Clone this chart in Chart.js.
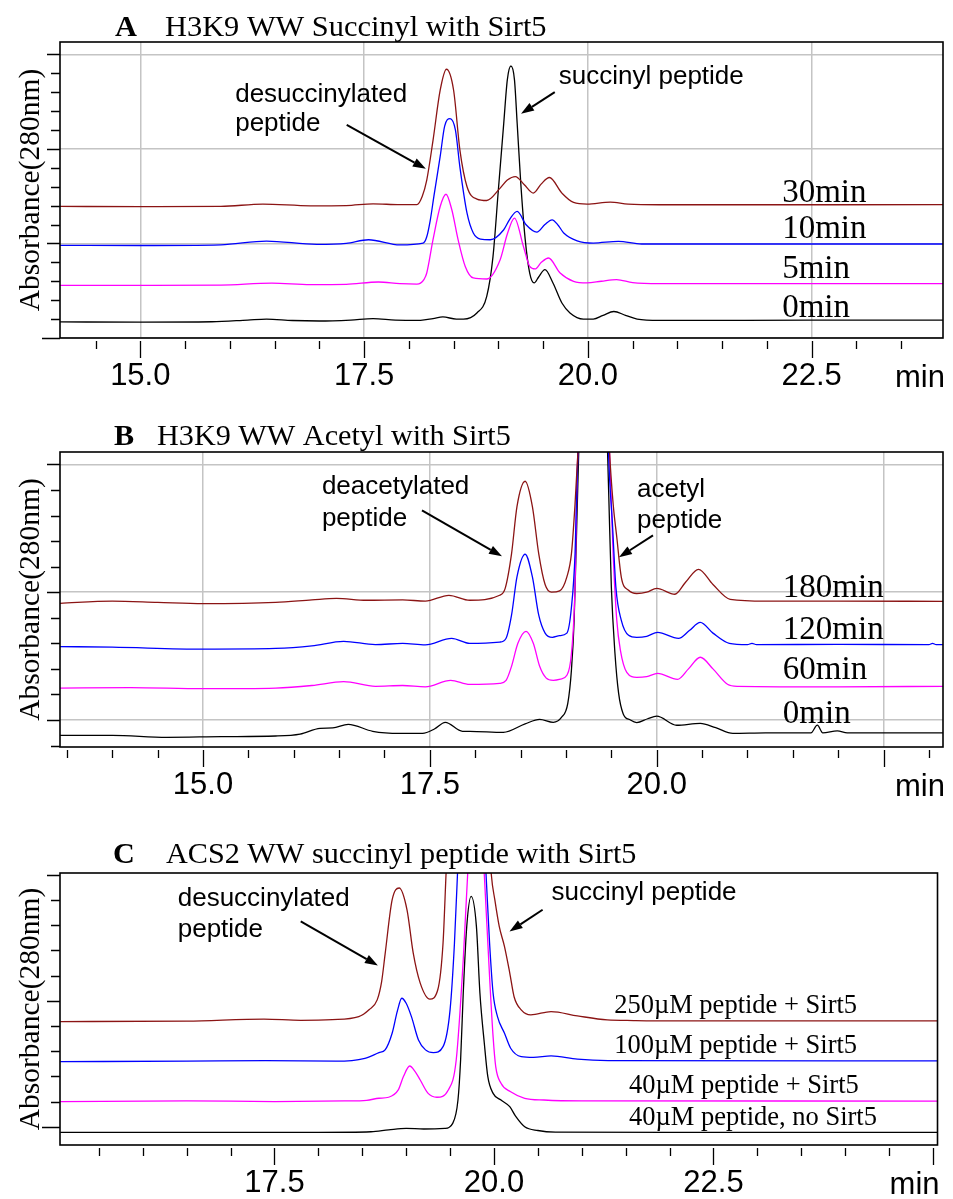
<!DOCTYPE html>
<html>
<head>
<meta charset="utf-8">
<script src="https://cdn.jsdelivr.net/npm/chart.js@4.4.1/dist/chart.umd.min.js"></script>
<style>
  body { margin: 0; background: #fff; }
  .panel { position: absolute; left: 0; width: 953px; }
</style>
</head>
<body>
<div class="panel" style="top:0"><canvas id="chartA" width="953" height="400"></canvas></div>
<div class="panel" style="top:400px"><canvas id="chartB" width="953" height="400"></canvas></div>
<div class="panel" style="top:800px"><canvas id="chartC" width="953" height="399"></canvas></div>
<script>
const DARKRED = "#8b1414";
const BLUE = "#0000ff";
const MAGENTA = "#ff00ff";
const BLACK = "#000000";
const GRID = "#c4c4c4";

// ---- panel A: H3K9 WW succinyl, [time (min), absorbance] ----
const A_0MIN = [
  [14.10, 0.17], [15.0, 0.168], [15.8, 0.172], [16.2, 0.19], [16.41, 0.20], [16.7, 0.185],
  [17.0, 0.18], [17.35, 0.19], [17.60, 0.205], [17.85, 0.19], [18.13, 0.187], [18.27, 0.205],
  [18.38, 0.223], [18.53, 0.20], [18.61, 0.20], [18.76, 0.265], [18.87, 0.44], [18.94, 0.86],
  [19.00, 1.567], [19.06, 2.27], [19.10, 2.73], [19.14, 2.876], [19.18, 2.73], [19.21, 2.27],
  [19.25, 1.64], [19.30, 1.04], [19.35, 0.687], [19.40, 0.582], [19.45, 0.645], [19.52, 0.722],
  [19.61, 0.582], [19.71, 0.37], [19.80, 0.265], [19.95, 0.20], [20.06, 0.20], [20.17, 0.24],
  [20.29, 0.28], [20.42, 0.24], [20.55, 0.20], [20.8, 0.187], [21.5, 0.187], [22.5, 0.188], [23.97, 0.19],
];
const A_5MIN = [
  [14.10, 0.557], [15.0, 0.557], [15.9, 0.56], [16.47, 0.58], [16.9, 0.565], [17.3, 0.568],
  [17.66, 0.592], [17.9, 0.575], [18.09, 0.57], [18.13, 0.58], [18.17, 0.62], [18.20, 0.687],
  [18.27, 1.04], [18.35, 1.39], [18.415, 1.52], [18.48, 1.356], [18.55, 1.04], [18.63, 0.757],
  [18.72, 0.635], [18.87, 0.624], [19.02, 0.828], [19.10, 1.10], [19.18, 1.268], [19.28, 0.968],
  [19.35, 0.757], [19.41, 0.73], [19.48, 0.80], [19.56, 0.846], [19.69, 0.687], [19.84, 0.599],
  [19.99, 0.582], [20.15, 0.60], [20.32, 0.617], [20.5, 0.585], [20.8, 0.574], [22.0, 0.574], [23.97, 0.575],
];
const A_10MIN = [
  [14.10, 0.979], [15.0, 0.978], [15.9, 0.985], [16.41, 1.025], [16.97, 0.99], [17.3, 1.0],
  [17.55, 1.039], [17.9, 0.985], [18.16, 1.004], [18.20, 1.07], [18.24, 1.25], [18.28, 1.50],
  [18.35, 1.92], [18.40, 2.24], [18.46, 2.32], [18.52, 2.20], [18.57, 1.81], [18.65, 1.32],
  [18.72, 1.11], [18.80, 1.046], [18.91, 1.039], [19.06, 1.145], [19.13, 1.26], [19.21, 1.338],
  [19.31, 1.197], [19.43, 1.12], [19.52, 1.20], [19.60, 1.25], [19.67, 1.19], [19.73, 1.11],
  [19.88, 1.028], [20.06, 1.004], [20.34, 1.022], [20.6, 0.994], [22.0, 0.994], [23.97, 0.994],
];
const A_30MIN = [
  [14.10, 1.391], [15.0, 1.39], [15.9, 1.392], [16.37, 1.416], [16.9, 1.398], [17.3, 1.40],
  [17.6, 1.419], [17.9, 1.41], [18.09, 1.41], [18.15, 1.50], [18.20, 1.67], [18.27, 2.09],
  [18.35, 2.62], [18.42, 2.842], [18.50, 2.62], [18.57, 1.99], [18.65, 1.60], [18.76, 1.469],
  [18.87, 1.454], [19.02, 1.585], [19.10, 1.67], [19.19, 1.707], [19.29, 1.62], [19.39, 1.532],
  [19.48, 1.63], [19.57, 1.697], [19.71, 1.532], [19.84, 1.433], [19.99, 1.416], [20.25, 1.437],
  [20.45, 1.415], [20.8, 1.409], [22.0, 1.409], [23.97, 1.41],
];

// ---- panel B: H3K9 WW acetyl ----
const B_0MIN = [
  [13.42, -0.12], [14.0, -0.12], [14.6, -0.135], [15.2, -0.13], [15.8, -0.125], [16.07, -0.11],
  [16.29, -0.065], [16.43, -0.062], [16.60, -0.034], [16.87, -0.088], [17.17, -0.104], [17.42, -0.104],
  [17.55, -0.07], [17.67, -0.018], [17.86, -0.088], [17.94, -0.088], [18.31, -0.096], [18.55, -0.03],
  [18.71, 0.005], [18.86, -0.018], [18.95, 0.02], [19.02, 0.131], [19.06, 0.39], [19.09, 0.78],
  [19.12, 1.56], [19.16, 2.5], [19.30, 3.2], [19.44, 2.5], [19.47, 1.8], [19.50, 1.04],
  [19.54, 0.52], [19.58, 0.21], [19.63, 0.05], [19.71, 0.0], [19.78, -0.02], [19.90, 0.01],
  [20.00, 0.03], [20.22, -0.041], [20.48, -0.026], [20.65, -0.06], [20.84, -0.104], [21.2, -0.1],
  [21.70, -0.1], [21.77, -0.04], [21.83, -0.1], [21.99, -0.085], [22.1, -0.1], [23.16, -0.1],
];
const B_60MIN = [
  [13.42, 0.25], [14.2, 0.253], [15.0, 0.245], [15.8, 0.25], [16.2, 0.27], [16.55, 0.30],
  [16.9, 0.264], [17.2, 0.27], [17.45, 0.26], [17.73, 0.311], [17.94, 0.279], [18.27, 0.287],
  [18.34, 0.31], [18.40, 0.42], [18.47, 0.6], [18.56, 0.694], [18.64, 0.6], [18.71, 0.42],
  [18.78, 0.33], [18.86, 0.311], [18.94, 0.32], [19.01, 0.35], [19.06, 0.52], [19.10, 1.04],
  [19.12, 1.82], [19.16, 2.6], [19.30, 3.2], [19.45, 2.6], [19.49, 1.9], [19.52, 1.30],
  [19.56, 0.78], [19.60, 0.545], [19.67, 0.373], [19.78, 0.334], [19.89, 0.34], [20.01, 0.365],
  [20.23, 0.318], [20.35, 0.40], [20.48, 0.491], [20.62, 0.40], [20.78, 0.28], [20.89, 0.264],
  [22.0, 0.26], [23.16, 0.264],
];
const B_120MIN = [
  [13.42, 0.575], [14.0, 0.57], [15.0, 0.555], [15.8, 0.56], [16.2, 0.58], [16.55, 0.616],
  [16.9, 0.59], [17.2, 0.6], [17.45, 0.588], [17.74, 0.639], [17.94, 0.6], [18.27, 0.61],
  [18.34, 0.64], [18.40, 0.82], [18.46, 1.12], [18.55, 1.297], [18.63, 1.12], [18.70, 0.82],
  [18.77, 0.68], [18.85, 0.647], [18.93, 0.66], [19.01, 0.68], [19.06, 0.88], [19.10, 1.30],
  [19.12, 1.82], [19.16, 2.6], [19.30, 3.2], [19.44, 2.6], [19.48, 1.9], [19.51, 1.56],
  [19.55, 1.04], [19.61, 0.78], [19.69, 0.663], [19.78, 0.647], [19.89, 0.655], [20.01, 0.686],
  [20.24, 0.639], [20.36, 0.70], [20.48, 0.764], [20.62, 0.68], [20.8, 0.6], [21.0, 0.59],
  [21.05, 0.6], [21.1, 0.59], [22.0, 0.592], [23.0, 0.59], [23.04, 0.6], [23.08, 0.59], [23.16, 0.59],
];
const B_180MIN = [
  [13.42, 0.913], [14.0, 0.93], [14.5, 0.92], [15.0, 0.91], [15.8, 0.92], [16.2, 0.94],
  [16.47, 0.952], [16.8, 0.937], [17.2, 0.94], [17.45, 0.93], [17.71, 0.976], [17.94, 0.937],
  [18.27, 0.976], [18.33, 1.03], [18.40, 1.3], [18.46, 1.67], [18.55, 1.868], [18.63, 1.67],
  [18.70, 1.3], [18.77, 1.06], [18.84, 1.0], [18.93, 1.01], [19.01, 1.12], [19.06, 1.30],
  [19.10, 1.69], [19.14, 2.2], [19.18, 2.8], [19.30, 3.3], [19.44, 2.8], [19.48, 2.1],
  [19.52, 1.69], [19.56, 1.43], [19.61, 1.117], [19.69, 1.015], [19.78, 0.99], [19.89, 1.0],
  [20.00, 1.03], [20.20, 0.984], [20.32, 1.08], [20.46, 1.179], [20.62, 1.06], [20.81, 0.944],
  [21.2, 0.93], [22.0, 0.93], [23.16, 0.929],
];

// ---- panel C: ACS2 WW succinyl ----
const C_40_NO_SIRT5 = [
  [15.06, -0.045], [16.0, -0.045], [17.0, -0.045], [18.0, -0.045], [18.6, -0.04], [18.8, -0.025],
  [19.00, -0.013], [19.2, -0.018], [19.44, -0.013], [19.53, 0.027], [19.59, 0.212], [19.62, 0.53],
  [19.65, 1.06], [19.69, 1.59], [19.74, 1.828], [19.80, 1.59], [19.84, 1.06], [19.89, 0.663],
  [19.93, 0.397], [19.99, 0.265], [20.08, 0.212], [20.18, 0.159], [20.25, 0.08], [20.35, 0.0],
  [20.50, -0.03], [20.7, -0.043], [22.0, -0.045], [25.05, -0.045],
];
const C_40_SIRT5 = [
  [15.06, 0.199], [16.5, 0.205], [17.5, 0.20], [18.3, 0.205], [18.55, 0.21], [18.69, 0.226],
  [18.80, 0.234], [18.91, 0.292], [18.97, 0.40], [19.04, 0.482], [19.10, 0.44], [19.16, 0.371],
  [19.25, 0.265], [19.35, 0.234], [19.48, 0.292], [19.57, 0.53], [19.65, 1.325], [19.70, 2.0],
  [19.73, 2.5], [19.80, 2.8], [19.86, 2.5], [19.89, 2.0], [19.95, 1.19], [19.99, 0.715],
  [20.02, 0.477], [20.08, 0.345], [20.19, 0.278], [20.35, 0.226], [20.57, 0.212], [21.0, 0.205], [25.05, 0.204],
];
const C_100_SIRT5 = [
  [15.06, 0.517], [16.5, 0.52], [17.4, 0.525], [18.2, 0.52], [18.53, 0.543], [18.69, 0.588],
  [18.76, 0.61], [18.84, 0.742], [18.90, 0.92], [18.95, 1.02], [19.00, 0.98], [19.06, 0.874],
  [19.14, 0.689], [19.22, 0.61], [19.31, 0.588], [19.42, 0.636], [19.50, 0.928], [19.55, 1.458],
  [19.59, 2.1], [19.62, 2.6], [19.74, 3.0], [19.86, 2.6], [19.91, 2.0], [19.95, 1.458],
  [19.99, 1.06], [20.04, 0.874], [20.12, 0.742], [20.19, 0.623], [20.31, 0.556], [20.45, 0.55],
  [20.65, 0.562], [20.95, 0.536], [21.3, 0.525], [25.05, 0.522],
];
const C_250_SIRT5 = [
  [15.06, 0.835], [16.5, 0.838], [17.38, 0.854], [17.8, 0.845], [18.16, 0.85], [18.46, 0.874],
  [18.58, 0.93], [18.67, 1.007], [18.72, 1.15], [18.76, 1.37], [18.84, 1.80], [18.92, 1.895],
  [19.01, 1.72], [19.08, 1.38], [19.16, 1.14], [19.27, 1.013], [19.36, 1.087], [19.42, 1.458],
  [19.46, 2.1], [19.50, 2.6], [19.70, 3.1], [19.92, 2.6], [19.97, 2.0], [20.01, 1.80],
  [20.06, 1.59], [20.12, 1.43], [20.18, 1.22], [20.23, 1.03], [20.31, 0.928], [20.42, 0.888],
  [20.65, 0.914], [20.95, 0.88], [21.29, 0.848], [21.59, 0.843], [22.0, 0.84], [25.05, 0.84],
];

// trace labels and annotations, placed in data units [text, time, absorbance]
const A_LABELS = [["30min", 22.17, 1.44], ["10min", 22.17, 1.06], ["5min", 22.17, 0.638], ["0min", 22.17, 0.221]];
const A_NOTES = [["desuccinylated", 16.06, 2.496], ["peptide", 16.06, 2.19], ["succinyl peptide", 19.675, 2.69]];
const A_ARROWS = [[17.306, 2.253, 18.19, 1.789], [19.63, 2.6, 19.253, 2.37]];

const B_LABELS = [["180min", 21.39, 0.96], ["120min", 21.39, 0.631], ["60min", 21.39, 0.318], ["0min", 21.39, -0.026]];
const B_NOTES = [["deacetylated", 16.31, 1.766], ["peptide", 16.31, 1.516], ["acetyl", 19.783, 1.743], ["peptide", 19.783, 1.5]];
const B_ARROWS = [[17.413, 1.641, 18.295, 1.281], [19.959, 1.445, 19.584, 1.273]];

const C_LABELS = [
  ["250\u00b5M peptide + Sirt5", 21.369, 0.904],
  ["100\u00b5M peptide + Sirt5", 21.369, 0.586],
  ["40\u00b5M peptide + Sirt5", 21.539, 0.268],
  ["40\u00b5M peptide, no Sirt5", 21.539, 0.0135],
];
const C_NOTES = [["desuccinylated", 16.398, 1.754], ["peptide", 16.398, 1.508], ["succinyl peptide", 20.656, 1.80]];
const C_ARROWS = [[17.799, 1.63, 18.678, 1.28], [20.554, 1.722, 20.177, 1.55]];

function onStep(v, step) {
  const r = v / step;
  return Math.abs(r - Math.round(r)) < 1e-6;
}

function drawArrow(ctx, x1, y1, x2, y2) {
  const ang = Math.atan2(y2 - y1, x2 - x1);
  const head = 13;
  const wing = 4.5;
  const bx = x2 - head * Math.cos(ang);
  const by = y2 - head * Math.sin(ang);
  ctx.lineWidth = 2;
  ctx.beginPath();
  ctx.moveTo(x1, y1);
  ctx.lineTo(bx, by);
  ctx.stroke();
  ctx.beginPath();
  ctx.moveTo(x2, y2);
  ctx.lineTo(bx + wing * Math.sin(ang), by - wing * Math.cos(ang));
  ctx.lineTo(bx - wing * Math.sin(ang), by + wing * Math.cos(ang));
  ctx.closePath();
  ctx.fill();
}

// frame, tick marks, titles, trace labels and arrows
const panelDecor = {
  id: "panelDecor",
  afterDraw(chart, args, o) {
    const { ctx, chartArea: a } = chart;
    const xs = chart.scales.x;
    const ys = chart.scales.y;
    ctx.save();
    ctx.strokeStyle = "#000";
    ctx.fillStyle = "#000";

    ctx.lineWidth = 1.6;
    ctx.strokeRect(a.left, a.top, a.right - a.left, a.bottom - a.top);

    ctx.lineWidth = 1.3;
    ctx.beginPath();
    xs.ticks.forEach((t) => {
      const px = Math.round(xs.getPixelForValue(t.value)) + 0.5;
      const len = onStep(t.value, 2.5) ? 17 : 8;
      ctx.moveTo(px, a.bottom + 3);
      ctx.lineTo(px, a.bottom + 3 + len);
    });
    ys.ticks.forEach((t) => {
      const py = Math.round(ys.getPixelForValue(t.value)) + 0.5;
      let len = onStep(t.value, 1) ? 13 : 9;
      if (Math.abs(t.value) < 1e-6) len = o.zeroTick;
      ctx.moveTo(a.left - len, py);
      ctx.lineTo(a.left, py);
    });
    ctx.stroke();

    ctx.font = '31px "Liberation Sans", Arial, sans-serif';
    ctx.textAlign = "right";
    ctx.textBaseline = "alphabetic";
    ctx.fillText("min", a.right + 2, a.bottom + 49);

    ctx.textAlign = "left";
    ctx.font = `bold ${o.titleSize}px "Liberation Serif", "Times New Roman", serif`;
    ctx.fillText(o.letter, o.letterX, o.titleBase);
    ctx.font = `${o.titleSize}px "Liberation Serif", "Times New Roman", serif`;
    ctx.fillText(o.title, o.titleX, o.titleBase);

    ctx.font = `${o.labelSize}px "Liberation Serif", "Times New Roman", serif`;
    o.labels.forEach(([txt, t, v]) => ctx.fillText(txt, xs.getPixelForValue(t), ys.getPixelForValue(v)));

    ctx.font = '26px "Liberation Sans", Arial, sans-serif';
    o.notes.forEach(([txt, t, v]) => ctx.fillText(txt, xs.getPixelForValue(t), ys.getPixelForValue(v)));

    o.arrows.forEach(([t1, v1, t2, v2]) => {
      drawArrow(ctx, xs.getPixelForValue(t1), ys.getPixelForValue(v1), xs.getPixelForValue(t2), ys.getPixelForValue(v2));
    });
    ctx.restore();
  },
};

function makePanel(id, cfg) {
  return new Chart(document.getElementById(id), {
    type: "line",
    data: {
      datasets: cfg.series.map(([points, color]) => ({
        data: points.map(([t, v]) => ({ x: t, y: v })),
        borderColor: color,
        borderWidth: 1.3,
        pointRadius: 0,
        fill: false,
        cubicInterpolationMode: "monotone",
      })),
    },
    options: {
      responsive: false,
      animation: false,
      events: [],
      layout: { padding: { top: cfg.padTop, right: cfg.padRight, left: 0, bottom: 0 } },
      plugins: { legend: { display: false }, tooltip: { enabled: false }, panelDecor: cfg.decor },
      scales: {
        x: {
          type: "linear",
          min: cfg.xMin,
          max: cfg.xMax,
          afterFit: (s) => { s.height = cfg.xHeight; },
          border: { display: false },
          grid: {
            drawTicks: false,
            lineWidth: 1.5,
            color: (c) => (cfg.grid && c.tick && onStep(c.tick.value, 2.5) ? GRID : "transparent"),
          },
          ticks: {
            stepSize: 0.5,
            includeBounds: false,
            autoSkip: false,
            maxRotation: 0,
            padding: 20,
            color: "#000",
            font: { family: '"Liberation Sans", Arial, sans-serif', size: 31 },
            callback: (v) => (onStep(v, 2.5) && v <= cfg.lastLabel + 1e-6 ? Number(v).toFixed(1) : ""),
          },
        },
        y: {
          type: "linear",
          min: cfg.yMin,
          max: cfg.yMax,
          afterFit: (s) => { s.width = 60; },
          border: { display: false },
          grid: {
            drawTicks: false,
            lineWidth: 1.5,
            color: (c) => (cfg.grid && c.tick && onStep(c.tick.value, 1) ? GRID : "transparent"),
          },
          ticks: { display: false, stepSize: 0.2, includeBounds: false },
          title: {
            display: true,
            text: "Absorbance(280nm)",
            color: "#000",
            padding: { top: 14, bottom: 0 },
            font: { family: '"Liberation Serif", "Times New Roman", serif', size: 29.5 },
          },
        },
      },
    },
    plugins: [panelDecor],
  });
}

makePanel("chartA", {
  series: [[A_30MIN, DARKRED], [A_10MIN, BLUE], [A_5MIN, MAGENTA], [A_0MIN, BLACK]],
  padTop: 42, padRight: 10, xHeight: 62,
  xMin: 14.103, xMax: 23.967, yMin: 0, yMax: 3.13, lastLabel: 22.5, grid: true,
  decor: {
    letter: "A", letterX: 115, title: "H3K9 WW Succinyl with Sirt5", titleX: 165, titleBase: 36, titleSize: 30.4,
    labelSize: 33, labels: A_LABELS, notes: A_NOTES, arrows: A_ARROWS, zeroTick: 18,
  },
});

makePanel("chartB", {
  series: [[B_180MIN, DARKRED], [B_120MIN, BLUE], [B_60MIN, MAGENTA], [B_0MIN, BLACK]],
  padTop: 52, padRight: 10, xHeight: 53,
  xMin: 13.424, xMax: 23.155, yMin: -0.211, yMax: 2.097, lastLabel: 20.0, grid: true,
  decor: {
    letter: "B", letterX: 114, title: "H3K9 WW Acetyl with Sirt5", titleX: 157, titleBase: 45, titleSize: 30.2,
    labelSize: 33, labels: B_LABELS, notes: B_NOTES, arrows: B_ARROWS, zeroTick: 13,
  },
});

makePanel("chartC", {
  series: [[C_250_SIRT5, DARKRED], [C_100_SIRT5, BLUE], [C_40_SIRT5, MAGENTA], [C_40_NO_SIRT5, BLACK]],
  padTop: 73, padRight: 11, xHeight: 54,
  xMin: 15.057, xMax: 25.052, yMin: -0.145, yMax: 2.014, lastLabel: 22.5, grid: false,
  decor: {
    letter: "C", letterX: 113, title: "ACS2 WW succinyl peptide with Sirt5", titleX: 166, titleBase: 63, titleSize: 30.2,
    labelSize: 26.5, labels: C_LABELS, notes: C_NOTES, arrows: C_ARROWS, zeroTick: 18,
  },
});
</script>
</body>
</html>
